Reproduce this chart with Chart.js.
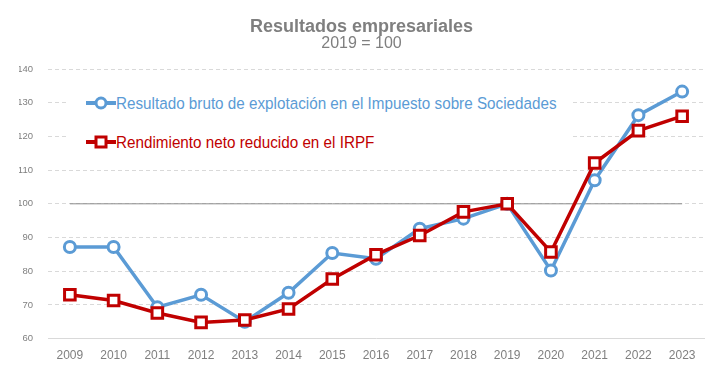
<!DOCTYPE html>
<html><head><meta charset="utf-8">
<script src="https://cdn.jsdelivr.net/npm/chart.js@4/dist/chart.umd.min.js"></script>
<style>
html,body{margin:0;padding:0;background:#fff;}
#wrap{position:relative;width:723px;height:379px;}
#legend{position:absolute;left:68px;top:84px;width:502px;height:72px;background:#fff;font-family:'Liberation Sans',Arial,sans-serif;font-size:16.3px;}
.item{position:absolute;left:17px;display:flex;align-items:center;height:20px;white-space:nowrap;}
.item svg{display:block;}
.item span{display:inline-block;transform:scaleX(0.936);transform-origin:0 50%;}
</style></head>
<body><div id="wrap"><canvas id="c" width="723" height="379"></canvas>
<div id="legend">
 <div class="item" style="color:#5b9bd5;top:9px"><svg width="31" height="20"><line x1="1" y1="10" x2="31" y2="10" stroke="#5b9bd5" stroke-width="4"/><circle cx="16" cy="10" r="5" fill="#fff" stroke="#5b9bd5" stroke-width="3"/></svg><span id="l1"></span></div>
 <div class="item" style="color:#c00000;top:48px"><svg width="31" height="20"><line x1="1" y1="10" x2="31" y2="10" stroke="#c00000" stroke-width="4"/><rect x="11" y="5" width="10" height="10" fill="#fff" stroke="#c00000" stroke-width="3"/></svg><span id="l2"></span></div>
</div>
</div>
<script>
const years = ['2009','2010','2011','2012','2013','2014','2015','2016','2017','2018','2019','2020','2021','2022','2023'];
const resultadoBruto = [87.2,87.2,69.3,73.0,65.0,73.6,85.4,83.7,92.6,95.6,100,80.2,107.0,126.3,133.3];
const rendimientoNeto = [73.0,71.3,67.6,64.8,65.5,68.8,77.7,84.9,90.6,97.6,100,85.7,112.1,121.7,126.0];
const baseLine = [100,100,100,100,100,100,100,100,100,100,100,100,100,100,100];
const seriesNames = ['Resultado bruto de explotación en el Impuesto sobre Sociedades','Rendimiento neto reducido en el IRPF'];
const titleText = 'Resultados empresariales';
const subtitleText = '2019 = 100';

document.getElementById('l1').textContent = seriesNames[0];
document.getElementById('l2').textContent = seriesNames[1];

const FF = "'Liberation Sans',Arial,sans-serif";
new Chart(document.getElementById('c'), {
  type: 'line',
  data: {
    labels: years,
    datasets: [
      {label: seriesNames[0], data: resultadoBruto, borderColor:'#5b9bd5', backgroundColor:'#fff', borderWidth:3.5,
       pointStyle:'circle', pointRadius:5.5, pointBorderWidth:3, pointBackgroundColor:'#fff', pointBorderColor:'#5b9bd5', tension:0, order:2},
      {label: seriesNames[1], data: rendimientoNeto, borderColor:'#c00000', backgroundColor:'#fff', borderWidth:3.5,
       pointStyle:'rect', pointRadius:7.5, pointBorderWidth:3, pointBackgroundColor:'#fff', pointBorderColor:'#c00000', tension:0, order:1},
      {label:'base', data: baseLine, borderColor:'#8c8c8c', borderWidth:1, pointRadius:0, order:3}
    ]
  },
  options: {
    responsive:false, animation:false,
    layout:{padding:{left:19,right:19,top:0,bottom:6}},
    plugins:{
      legend:{display:false}, tooltip:{enabled:false},
      title:{display:true, text:titleText, color:'#7f7f7f', font:{family:FF,size:18,weight:'bold',lineHeight:1.0}, padding:{top:18,bottom:0}},
      subtitle:{display:true, text:subtitleText, color:'#7f7f7f', font:{family:FF,size:16,lineHeight:1.0}, padding:{top:0,bottom:17}}
    },
    scales:{
      x:{offset:true, grid:{display:false, drawTicks:false}, border:{display:true, color:'#d9d9d9', width:1},
         ticks:{color:'#7f7f7f', font:{family:FF,size:12}, padding:10}},
      y:{min:60, max:140, afterFit(scale){ scale.width = 29; },
         ticks:{stepSize:10, color:'#7f7f7f', font:{family:FF,size:9.5}, padding:15},
         grid:{color:'#d9d9d9', drawTicks:false, lineWidth:1},
         border:{display:false, dash:[4,3]}}
    }
  }
});
</script></body></html>
